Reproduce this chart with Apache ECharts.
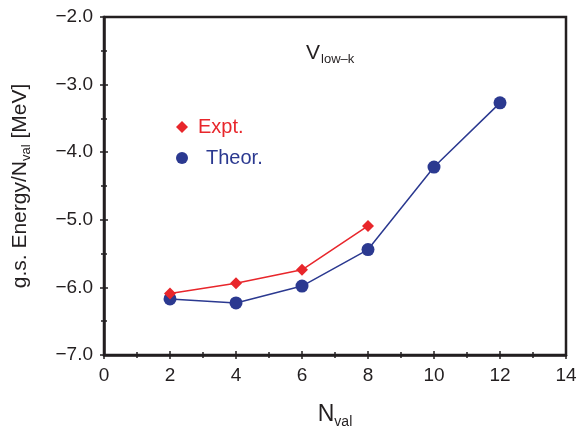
<!DOCTYPE html>
<html>
<head>
<meta charset="utf-8">
<script src="https://cdn.jsdelivr.net/npm/echarts@6/dist/echarts.min.js"></script>
<style>
html, body { margin: 0; padding: 0; background: #fff; }
#chart { width: 580px; height: 427px; }
</style>
</head>
<body>
<div id="chart"></div>
<script>
var nVal = [2, 4, 6, 8, 10, 12];
var expt = [-6.09, -5.94, -5.74, -5.09];
var theor = [-6.17, -6.23, -5.98, -5.44, -4.22, -3.27];

var red = '#e8262b';
var blue = '#2b3990';
var ink = '#231f20';
var font = '"Liberation Sans", Arial, sans-serif';

function pairs(xs, ys) {
	var out = [];
	for (var i = 0; i < ys.length; i++) out.push([xs[i], ys[i]]);
	return out;
}

function minus(v) {
	return String(v).replace('-', '\u2212');
}

var chart = echarts.init(document.getElementById('chart'));

var tickLbl = { fontSize: 19, color: ink, fontFamily: font };

var option = {
	animation: false,
	grid: {
		left: 104, right: 14, top: 17, bottom: 72,
		outerBoundsMode: 'none', containLabel: false,
		show: true, borderColor: ink, borderWidth: 2.5, backgroundColor: 'transparent'
	},
	legend: {
		orient: 'vertical',
		left: 171, top: 112,
		itemGap: 11,
		itemWidth: 12, itemHeight: 12,
		textStyle: { fontSize: 20, fontFamily: font },
		data: [
			{ name: 'Expt.', icon: 'diamond', textStyle: { color: red, padding: [0, 0, 0, 5] } },
			{ name: 'Theor.', icon: 'circle', textStyle: { color: blue, padding: [0, 0, 0, 13] } }
		]
	},
	graphic: [{
		type: 'text', left: 306, top: 43,
		style: {
			text: 'V{sub|low\u2013k}',
			font: '21px ' + font, fill: ink,
			rich: { sub: { fontSize: 13, fontFamily: font, fill: ink, padding: [11, 0, 0, 1] } }
		}
	}],
	xAxis: [{
		type: 'value', min: 0, max: 14, interval: 2,
		name: 'N{sub|val}', nameLocation: 'middle', nameGap: 46,
		nameTextStyle: { fontSize: 23, color: ink, fontFamily: font,
			rich: { sub: { fontSize: 14, color: ink, fontFamily: font, padding: [14, 0, 0, 0] } } },
		axisLine: { show: true, lineStyle: { color: ink, width: 2.5 } },
		axisTick: { show: true, length: 4, lineStyle: { color: ink, width: 1.5 } },
		minorTick: { show: true, splitNumber: 2, length: 3, lineStyle: { color: ink, width: 1.5 } },
		axisLabel: Object.assign({ margin: 11 }, tickLbl),
		splitLine: { show: false }
	}, {
		type: 'value', min: 0, max: 14, interval: 2, position: 'bottom',
		axisLine: { show: false },
		axisTick: { show: true, inside: true, length: 4, lineStyle: { color: ink, width: 1.5 } },
		minorTick: { show: true, splitNumber: 2, length: 3, lineStyle: { color: ink, width: 1.5 } },
		axisLabel: { show: false },
		splitLine: { show: false }
	}],
	yAxis: [{
		type: 'value', min: -7, max: -2, interval: 1,
		name: 'g.s. Energy/N{sub|val} [MeV]', nameLocation: 'middle', nameGap: 71,
		nameTextStyle: { fontSize: 21, color: ink, fontFamily: font,
			rich: { sub: { fontSize: 13, color: ink, fontFamily: font, padding: [13, 0, 0, 0] } } },
		axisLine: { show: true, lineStyle: { color: ink, width: 2.5 } },
		axisTick: { show: true, length: 4, lineStyle: { color: ink, width: 1.5 } },
		minorTick: { show: true, splitNumber: 2, length: 3, lineStyle: { color: ink, width: 1.5 } },
		axisLabel: Object.assign({ margin: 11, formatter: function (v) { return minus(v.toFixed(1)); } }, tickLbl),
		splitLine: { show: false }
	}, {
		type: 'value', min: -7, max: -2, interval: 1, position: 'left',
		axisLine: { show: false },
		axisTick: { show: true, inside: true, length: 4, lineStyle: { color: ink, width: 1.5 } },
		minorTick: { show: true, splitNumber: 2, length: 3, lineStyle: { color: ink, width: 1.5 } },
		axisLabel: { show: false },
		splitLine: { show: false }
	}],
	series: [{
		name: 'Theor.', type: 'line',
		data: pairs(nVal, theor),
		symbol: 'circle', symbolSize: 13,
		itemStyle: { color: blue },
		lineStyle: { color: blue, width: 1.5 }
	}, {
		name: 'Expt.', type: 'line',
		data: pairs(nVal, expt),
		symbol: 'diamond', symbolSize: 12,
		itemStyle: { color: red },
		lineStyle: { color: red, width: 1.5 }
	}]
};

chart.setOption(option);
</script>
</body>
</html>
